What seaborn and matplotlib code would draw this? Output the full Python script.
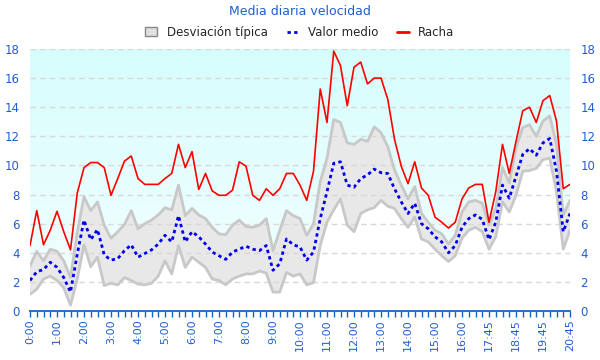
import matplotlib
matplotlib.use("Agg")
import matplotlib.pyplot as plt
import seaborn as sns
import numpy as np
import pandas as pd
from matplotlib.patches import Patch
from matplotlib.lines import Line2D

# 15-minute readings; a short gap between 16:00 and 17:45
minutes = list(range(0, 16 * 60 + 1, 15)) + [1020, 1035, 1050] + list(range(1065, 1246, 15))
times = [f"{m // 60}:{m % 60:02d}" for m in minutes]

racha = [4.5, 6.9, 4.55, 5.55, 6.85, 5.45, 4.2, 8.1, 9.85, 10.2, 10.2, 9.85, 7.95, 9.1,
         10.3, 10.65, 9.1, 8.7, 8.7, 8.7, 9.1, 9.45, 11.45, 9.85, 10.95, 8.35, 9.45, 8.25,
         7.95, 7.95, 8.3, 10.25, 9.95, 7.95, 7.6, 8.4, 7.95, 8.4, 9.45, 9.45, 8.65, 7.6,
         9.6, 15.25, 12.95, 17.85, 16.85, 14.1, 16.75, 17.1, 15.6, 16.0, 16.0, 14.55, 11.8,
         9.95, 8.75, 10.25, 8.45, 7.95, 6.45, 6.1, 5.7, 6.1, 7.7, 8.45, 8.7, 8.7, 6.1, 8.2,
         11.45, 9.45, 11.65, 13.75, 14.0, 12.95, 14.45, 14.8, 13.05, 8.4, 8.7]

media = [2.1, 2.7, 2.85, 3.35, 3.0, 2.3, 1.3, 3.9, 6.25, 4.9, 5.6, 3.85, 3.5, 3.6,
         4.15, 4.55, 3.7, 3.95, 4.2, 4.6, 5.2, 4.75, 6.55, 4.75, 5.45, 5.1, 4.6, 4.05,
         3.8, 3.55, 4.05, 4.25, 4.45, 4.25, 4.15, 4.5, 2.8, 3.25, 4.95, 4.55, 4.4, 3.5,
         4.05, 6.35, 8.2, 10.15, 10.25, 8.65, 8.5, 9.1, 9.35, 9.75, 9.5, 9.45, 8.4,
         7.5, 6.7, 7.4, 6.0, 5.65, 5.1, 4.75, 4.0, 4.5, 5.75, 6.35, 6.6, 6.3, 4.9, 6.1,
         8.65, 7.75, 9.25, 10.75, 11.15, 10.7, 11.55, 11.85, 9.6, 5.45, 6.7]

desv_sup = [3.1, 4.1, 3.45, 4.25, 4.1, 3.45, 2.3, 5.4, 7.85, 6.9, 7.5, 5.9, 5.0, 5.45,
            5.95, 6.9, 5.65, 6.0, 6.25, 6.6, 7.1, 6.95, 8.65, 6.55, 7.05, 6.6, 6.35, 5.75,
            5.3, 5.25, 5.9, 6.25, 5.8, 5.75, 5.9, 6.35, 4.15, 5.55, 6.9, 6.55, 6.35, 5.2,
            6.0, 8.9, 10.5, 13.15, 12.95, 11.55, 11.45, 11.8, 11.65, 12.65, 12.25, 11.3, 9.7,
            8.65, 7.7, 8.55, 6.7, 6.1, 5.55, 5.3, 4.6, 5.2, 6.8, 7.5, 7.6, 7.4, 5.9, 7.05,
            9.85, 8.8, 11.2, 12.6, 12.8, 12.0, 13.05, 13.4, 11.45, 6.6, 7.6]

desv_inf = [1.15, 1.5, 2.2, 2.4, 2.1, 1.6, 0.4, 2.2, 4.55, 3.05, 3.7, 1.75, 1.9, 1.8,
            2.3, 2.1, 1.85, 1.8, 1.9, 2.4, 3.45, 2.55, 4.5, 3.0, 3.7, 3.35, 3.0, 2.2,
            2.1, 1.8, 2.2, 2.4, 2.55, 2.55, 2.75, 2.6, 1.3, 1.3, 2.65, 2.4, 2.55, 1.8,
            1.95, 4.5, 6.1, 6.95, 7.7, 5.9, 5.45, 6.7, 6.95, 7.1, 7.6, 7.2, 7.05,
            6.35, 5.75, 6.45, 4.95, 4.75, 4.25, 3.8, 3.4, 3.8, 5.0, 5.55, 5.75, 5.45, 4.25, 5.1,
            7.5, 6.8, 7.95, 9.6, 9.65, 9.8, 10.4, 10.5, 8.2, 4.25, 5.55]

df = pd.DataFrame({"idx": range(len(times)), "hora": times, "racha": racha,
                   "media": media, "sup": desv_sup, "inf": desv_inf})

sns.set_style("white")
plt.rcParams["font.family"] = ["DejaVu Sans"]
blue_txt = "#1f5fcf"

fig, ax = plt.subplots(figsize=(6, 3.6), dpi=100)
fig.subplots_adjust(left=0.05, right=0.95, top=0.864, bottom=0.136)
ymax = 18

# cyan gradient above the deviation band
poly = ax.fill_between(df["idx"], df["sup"], ymax, facecolor="none", edgecolor="none")
grad = np.linspace(1, 0, 256).reshape(-1, 1)
cmap = matplotlib.colors.LinearSegmentedColormap.from_list("cy", ["#f6ffff", "#d6fdfd"])
img = ax.imshow(grad, cmap=cmap, aspect="auto", extent=[0, len(df) - 1, 0, ymax],
                origin="upper", zorder=0, vmin=0, vmax=1)
img.set_clip_path(poly.get_paths()[0], transform=ax.transData)

# deviation band
ax.fill_between(df["idx"], df["inf"], df["sup"], facecolor="#e8e8e8", edgecolor="none", zorder=1)
sns.lineplot(data=df, x="idx", y="sup", color="#c8c8c8", lw=2, ax=ax, zorder=2)
sns.lineplot(data=df, x="idx", y="inf", color="#c8c8c8", lw=2, ax=ax, zorder=2)

sns.lineplot(data=df, x="idx", y="media", color="#0000ee", lw=2, ax=ax, zorder=3,
             linestyle=(0, (1.2, 1.2)))
sns.lineplot(data=df, x="idx", y="racha", color="#ff0000", lw=1.2, ax=ax, zorder=4)

ax.set_xlim(0, len(df) - 1)
ax.set_ylim(0, ymax)
ax.set_yticks(range(0, 19, 2))
ax.set_xticks(df["idx"])
ax.set_xticklabels([t if i % 4 == 0 else "" for i, t in enumerate(times)], rotation=90)
ax.set_xlabel("")
ax.set_ylabel("")
ax.set_axisbelow("line")
ax.yaxis.grid(True, linestyle=(0, (4, 3)), color="#ddd6d6", lw=1)
ax.xaxis.grid(False)
for s in ["top", "left", "right"]:
    ax.spines[s].set_visible(False)
ax.spines["bottom"].set_color("#1565c0")
ax.spines["bottom"].set_linewidth(1.3)
ax.tick_params(axis="x", bottom=True, length=4, width=1, color="#1565c0",
               labelsize=8, labelcolor=blue_txt, pad=2)
ax.tick_params(axis="y", left=False, right=False, labelleft=True, labelright=True,
               labelsize=8.5, labelcolor=blue_txt, pad=4)

fig.suptitle("Media diaria velocidad", y=0.985, fontsize=9, color=blue_txt)
handles = [Patch(facecolor="#e0e0e0", edgecolor="#888888"),
           Line2D([], [], color="#0000ee", lw=2, linestyle=(0, (1.2, 1.2))),
           Line2D([], [], color="#ff0000", lw=2)]
fig.legend(handles, ["Desviación típica", "Valor medio", "Racha"], loc="center",
           bbox_to_anchor=(0.5, 0.91), ncol=3, frameon=False, fontsize=8.5,
           handlelength=1.0, handleheight=0.8, columnspacing=1.6, handletextpad=0.8)

fig.savefig("out.png", dpi=100)
